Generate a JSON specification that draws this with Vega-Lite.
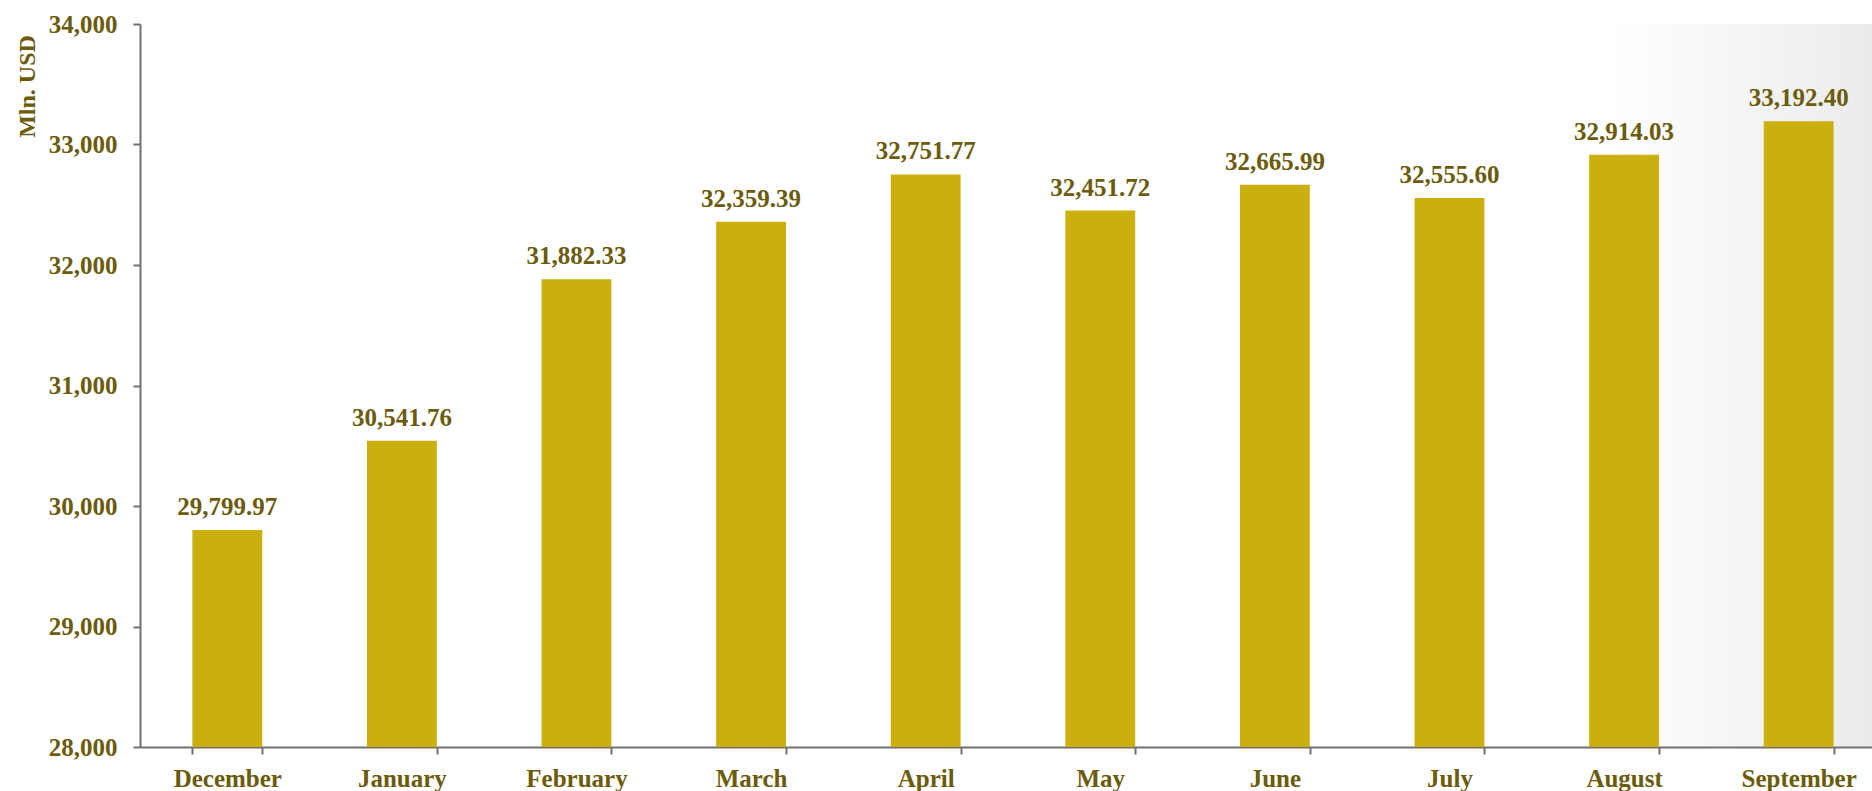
{
  "$schema": "https://vega.github.io/schema/vega-lite/v6.json",
  "autosize": {"type": "none"},
  "width": 1732,
  "height": 723,
  "padding": {"left": 140, "top": 24, "right": 0, "bottom": 44},
  "background": "white",
  "config": {
    "view": {
      "stroke": null,
      "fill": {
        "gradient": "linear",
        "x1": 0, "y1": 0, "x2": 1, "y2": 0,
        "stops": [
          {"offset": 0, "color": "#ffffff"},
          {"offset": 0.85, "color": "#ffffff"},
          {"offset": 1, "color": "#ebebeb"}
        ]
      }
    },
    "font": "Liberation Serif"
  },
  "data": {
    "values": [
      {"month": "December", "value": 29799.97},
      {"month": "January", "value": 30541.76},
      {"month": "February", "value": 31882.33},
      {"month": "March", "value": 32359.39},
      {"month": "April", "value": 32751.77},
      {"month": "May", "value": 32451.72},
      {"month": "June", "value": 32665.99},
      {"month": "July", "value": 32555.60},
      {"month": "August", "value": 32914.03},
      {"month": "September", "value": 33192.40}
    ]
  },
  "encoding": {
    "x": {
      "field": "month",
      "type": "nominal",
      "sort": null,
      "scale": {"paddingInner": 0.6, "paddingOuter": 0.26, "align": 0.577},
      "axis": {
        "title": null,
        "labelAngle": 0,
        "labelFont": "Liberation Serif",
        "labelFontWeight": "bold",
        "labelFontSize": 25,
        "labelColor": "#6B5B0B",
        "labelPadding": 12,
        "tickBand": "extent",
        "domainColor": "#707070",
        "domainWidth": 2,
        "tickColor": "#707070",
        "tickWidth": 2,
        "tickSize": 7,
        "grid": false
      }
    }
  },
  "layer": [
    {
      "mark": {"type": "bar", "color": "#CBAF0C", "clip": true},
      "encoding": {
        "y": {
          "field": "value",
          "type": "quantitative",
          "scale": {"domain": [28000, 34000], "zero": false, "nice": false},
          "axis": {
            "title": "Mln. USD",
            "titleFont": "Liberation Serif",
            "titleFontWeight": "bold",
            "titleFontSize": 24,
            "titleColor": "#6B5B0B",
            "titleAngle": -90,
            "titleAlign": "center",
            "titleBaseline": "middle",
            "titleX": -113,
            "titleY": 62,
            "values": [28000, 29000, 30000, 31000, 32000, 33000, 34000],
            "format": ",.0f",
            "labelFont": "Liberation Serif",
            "labelFontWeight": "bold",
            "labelFontSize": 25,
            "labelColor": "#6B5B0B",
            "labelPadding": 16,
            "domainColor": "#707070",
            "domainWidth": 2,
            "tickColor": "#707070",
            "tickWidth": 2,
            "tickSize": 7,
            "grid": false
          }
        }
      }
    },
    {
      "mark": {
        "type": "text",
        "baseline": "alphabetic",
        "dy": -15,
        "font": "Liberation Serif",
        "fontWeight": "bold",
        "fontSize": 25,
        "color": "#6B5B0B"
      },
      "encoding": {
        "y": {"field": "value", "type": "quantitative"},
        "text": {"field": "value", "type": "quantitative", "format": ",.2f"}
      }
    }
  ]
}
